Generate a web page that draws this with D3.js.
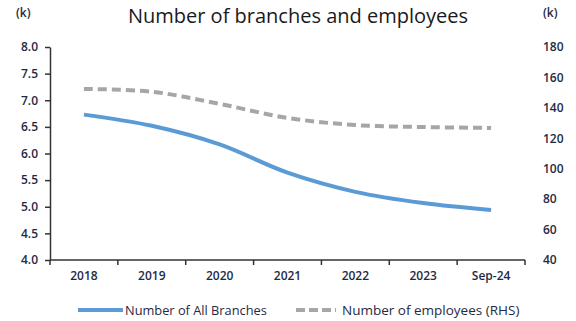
<!DOCTYPE html>
<html lang="en">
  <head>
    <meta charset="UTF-8" />
    <title>Number of branches and employees</title>
    <script src="https://d3js.org/d3.v7.min.js"></script>
    <style>
      body { margin: 0; background: #fff; }
      text { font-family: "Open Sans", "Noto Sans", sans-serif; }
    </style>
  </head>
  <body>
    <div id="chart"></div>
    <script>
      // data
      const years = ["2018", "2019", "2020", "2021", "2022", "2023", "Sep-24"];
      const branches = [6.73, 6.52, 6.17, 5.64, 5.28, 5.07, 4.94];
      const employees = [152.4, 150.6, 142.6, 133.4, 128.7, 127.4, 126.8];
      const leftTicks = [4.0, 4.5, 5.0, 5.5, 6.0, 6.5, 7.0, 7.5, 8.0];
      const rightTicks = [40, 60, 80, 100, 120, 140, 160, 180];

      const W = 576, H = 321;
      const mLeft = 50, mRight = 525, mTop = 47, mBottom = 260;

      const svg = d3.select("#chart").append("svg")
        .attr("width", W).attr("height", H);

      const x = d3.scaleBand().domain(years).range([mLeft, mRight]);
      const yL = d3.scaleLinear().domain([4, 8]).range([mBottom, mTop]);
      const yR = d3.scaleLinear().domain([40, 180]).range([mBottom, mTop]);

      // title
      svg.append("text")
        .attr("x", 298).attr("y", 23)
        .attr("text-anchor", "middle")
        .style("font-size", "20px")
        .style("fill", "#1a1a1a")
        .text("Number of branches and employees");

      svg.append("text").attr("x", 16).attr("y", 17)
        .style("font-size", "12px").style("font-weight", "600")
        .style("fill", "#1f2a44").text("(k)");
      svg.append("text").attr("x", 543).attr("y", 17)
        .style("font-size", "12px").style("font-weight", "600")
        .style("fill", "#1f2a44").text("(k)");

      // left axis
      const gl = svg.append("g")
        .attr("transform", `translate(${mLeft},0)`)
        .call(d3.axisLeft(yL).tickValues(leftTicks).tickFormat(d3.format(".1f")).tickSize(5).tickSizeOuter(0));
      gl.select(".domain").attr("stroke", "#333").attr("stroke-width", 1.5);
      gl.selectAll(".tick line").attr("stroke", "#333").attr("stroke-width", 1.5);
      gl.selectAll(".tick text")
        .attr("x", -12)
        .style("font-size", "12px").style("font-weight", "600")
        .style("fill", "#1f2a44").style("font-family", "'Open Sans', sans-serif");

      // right axis labels only
      const gr = svg.append("g")
        .attr("transform", `translate(${mRight},0)`)
        .call(d3.axisRight(yR).tickValues(rightTicks).tickSize(0));
      gr.select(".domain").remove();
      gr.selectAll(".tick text")
        .attr("x", 18)
        .style("font-size", "12px").style("font-weight", "600")
        .style("fill", "#1f2a44").style("font-family", "'Open Sans', sans-serif");

      // x axis with ticks at band edges
      const gx = svg.append("g").attr("transform", `translate(0,${mBottom})`);
      gx.append("line")
        .attr("x1", mLeft).attr("x2", mRight)
        .attr("stroke", "#333").attr("stroke-width", 1.5);
      const edges = years.map(d => x(d)).concat([mRight]);
      gx.selectAll("line.tk").data(edges).join("line")
        .attr("class", "tk")
        .attr("x1", d => d).attr("x2", d => d)
        .attr("y1", 0).attr("y2", 5)
        .attr("stroke", "#333").attr("stroke-width", 1.5);
      gx.selectAll("text").data(years).join("text")
        .attr("x", d => x(d) + x.bandwidth() / 2)
        .attr("y", 20)
        .attr("text-anchor", "middle")
        .style("font-size", "12px").style("font-weight", "600")
        .style("fill", "#1f2a44")
        .text(d => d);

      const cx = d => x(d) + x.bandwidth() / 2;
      const smooth = d3.line().curve(d3.curveCatmullRom.alpha(0.5));

      // employees (RHS) dashed
      svg.append("path")
        .datum(years.map((d, i) => [cx(d), yR(employees[i])]))
        .attr("fill", "none")
        .attr("stroke", "#a6a6a6")
        .attr("stroke-width", 4)
        .attr("stroke-dasharray", "9,5")
        .attr("d", smooth);

      // branches
      svg.append("path")
        .datum(years.map((d, i) => [cx(d), yL(branches[i])]))
        .attr("fill", "none")
        .attr("stroke", "#5b9bd5")
        .attr("stroke-width", 4)
        .attr("d", smooth);

      // legend
      const lg = svg.append("g").attr("transform", "translate(0,310)");
      lg.append("line").attr("x1", 78).attr("x2", 123).attr("y1", 0).attr("y2", 0)
        .attr("stroke", "#5b9bd5").attr("stroke-width", 4);
      lg.append("text").attr("x", 125).attr("y", 4.5)
        .style("font-size", "12.8px").style("fill", "#1f2a44")
        .text("Number of All Branches");
      lg.append("line").attr("x1", 296).attr("x2", 336).attr("y1", 0).attr("y2", 0)
        .attr("stroke", "#a6a6a6").attr("stroke-width", 4)
        .attr("stroke-dasharray", "9,4");
      lg.append("text").attr("x", 342).attr("y", 4.5)
        .style("font-size", "13.5px").style("fill", "#1f2a44")
        .text("Number of employees (RHS)");
    </script>
  </body>
</html>
